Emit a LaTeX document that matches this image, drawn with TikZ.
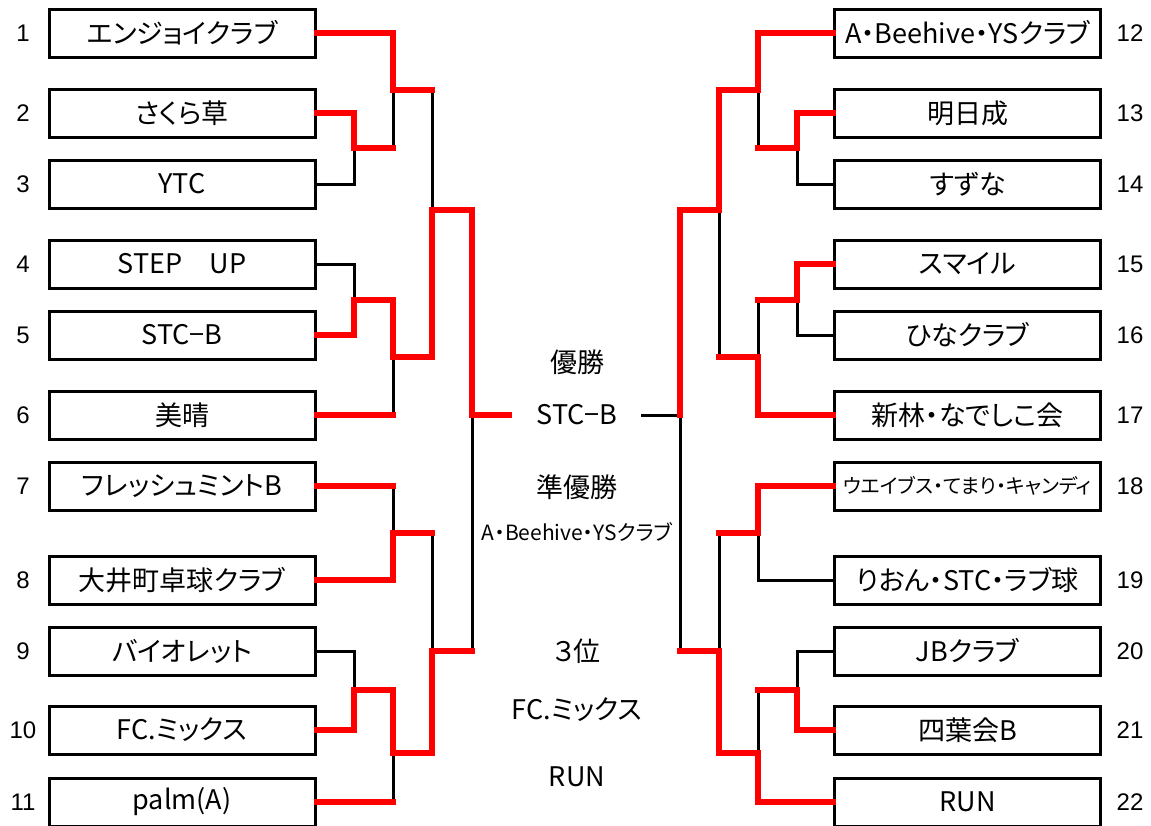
\documentclass[tikz,border=0pt]{standalone}
\usepackage{fontspec}
\setmainfont[RawFeature=+palt]{Noto Sans CJK JP}
\newfontfamily\numfont{Liberation Sans}
\begin{document}
\begin{tikzpicture}[x=1pt,y=-1pt,
  team/.style={draw, line width=3pt, minimum width=266pt, minimum height=48pt, inner sep=0pt, font=\fontsize{27}{27}\selectfont},
  num/.style={inner sep=0pt, font=\numfont\fontsize{24}{24}\selectfont},
  lab/.style={inner sep=0pt, font=\fontsize{27}{27}\selectfont},
  win/.style={draw=red, line width=5.5pt, line cap=rect},
  lose/.style={draw=black, line width=3pt, line cap=rect}]
\useasboundingbox (0,0) rectangle (1151,825);
% left teams
\node[team] (L1) at (182,33) {エンジョイクラブ};
\node[team] (L2) at (182,113) {さくら草};
\node[team] (L3) at (182,184) {YTC};
\node[team] (L4) at (182,264) {STEP　UP};
\node[team] (L5) at (182,335) {STC−B};
\node[team] (L6) at (182,415) {美晴};
\node[team] (L7) at (182,486) {フレッシュミントB};
\node[team] (L8) at (182,580) {大井町卓球クラブ};
\node[team] (L9) at (182,651) {バイオレット};
\node[team] (L10) at (182,730) {FC.ミックス};
\node[team] (L11) at (182,802) {palm(A)};
% right teams
\node[team] (R12) at (967.5,33) {A・Beehive・YSクラブ};
\node[team] (R13) at (967.5,113) {明日成};
\node[team] (R14) at (967.5,184) {すずな};
\node[team] (R15) at (967.5,264) {スマイル};
\node[team] (R16) at (967.5,335) {ひなクラブ};
\node[team] (R17) at (967.5,415) {新林・なでしこ会};
\node[team, font=\fontsize{20}{20}\selectfont] (R18) at (967.5,486) {ウエイブス・てまり・キャンディ};
\node[team] (R19) at (967.5,580) {りおん・STC・ラブ球};
\node[team] (R20) at (967.5,651) {JBクラブ};
\node[team] (R21) at (967.5,730) {四葉会B};
\node[team] (R22) at (967.5,802) {RUN};
% numbers
\node[num] (n1) at (23,33) {1};
\node[num] (n2) at (23,113) {2};
\node[num] (n3) at (23,184) {3};
\node[num] (n4) at (23,264) {4};
\node[num] (n5) at (23,335) {5};
\node[num] (n6) at (23,415) {6};
\node[num] (n7) at (23,486) {7};
\node[num] (n8) at (23,580) {8};
\node[num] (n9) at (23,651) {9};
\node[num] (n10) at (23,730) {10};
\node[num] (n11) at (23,802) {11};
\node[num] (n12) at (1130,33) {12};
\node[num] (n13) at (1130,113) {13};
\node[num] (n14) at (1130,184) {14};
\node[num] (n15) at (1130,264) {15};
\node[num] (n16) at (1130,335) {16};
\node[num] (n17) at (1130,415) {17};
\node[num] (n18) at (1130,486) {18};
\node[num] (n19) at (1130,580) {19};
\node[num] (n20) at (1130,651) {20};
\node[num] (n21) at (1130,730) {21};
\node[num] (n22) at (1130,802) {22};
% center labels
\node[lab] (t1) at (577,362) {優勝};
\node[lab] (champ) at (577,415) {STC−B};
\node[lab] (t2) at (577,487) {準優勝};
\node[lab, font=\fontsize{21}{21}\selectfont] (second) at (577,532) {A・Beehive・YSクラブ};
\node[lab] (t3) at (577,651) {３位};
\node[lab] (third1) at (577,710) {FC.ミックス};
\node[lab] (third2) at (577,777) {RUN};
% junctions
\coordinate (a23) at (354,148);
\coordinate (a1) at (393,90);
\coordinate (a45) at (354,300);
\coordinate (a6) at (393,357);
\coordinate (aT) at (432,210);
\coordinate (a78) at (393,533);
\coordinate (a910) at (354,690);
\coordinate (a11) at (393,753);
\coordinate (aB) at (432,651);
\coordinate (aF) at (472,415);
\coordinate (fl) at (509,415);
\coordinate (b1314) at (797,148);
\coordinate (b12) at (758,90);
\coordinate (b1516) at (797,300);
\coordinate (b17) at (758,357);
\coordinate (bT) at (719,210);
\coordinate (b1819) at (758,533);
\coordinate (b2021) at (797,690);
\coordinate (b22) at (758,753);
\coordinate (bB) at (719,651);
\coordinate (bF) at (680,415);
\coordinate (fr) at (642,415);
% black (losing) lines
\draw[lose] (L3.east) -| (a23);
\draw[lose] (a1) -- (a1 |- a23);
\draw[lose] (L4.east) -| (a45);
\draw[lose] (a6) -- (a6 |- L6.east);
\draw[lose] (aT) -- (aT |- a1);
\draw[lose] (a78) -- (a78 |- L7.east);
\draw[lose] (L9.east) -| (a910);
\draw[lose] (a11) -- (a11 |- L11.east);
\draw[lose] (aB) -- (aB |- a78);
\draw[lose] (aF) -- (aF |- aB);
\draw[lose] (R14.west) -| (b1314);
\draw[lose] (b12) -- (b12 |- b1314);
\draw[lose] (R16.west) -| (b1516);
\draw[lose] (b17) -- (b17 |- b1516);
\draw[lose] (bT) -- (bT |- b17);
\draw[lose] (R19.west) -| (b1819);
\draw[lose] (R20.west) -| (b2021);
\draw[lose] (b22) -- (b22 |- b2021);
\draw[lose] (bB) -- (bB |- b1819);
\draw[lose] (bF) -- (bF |- bB);
\draw[lose] (bF) -- (fr);
% red (winning) lines
\draw[win] (L2.east) -| (a23) -- (a23 -| a1);
\draw[win] (L1.east) -| (a1) -- (a1 -| aT);
\draw[win] (L5.east) -| (a45) -- (a45 -| a6) -- (a6) -- (a6 -| aT) -- (aT) -- (aT -| aF) -- (aF) -- (fl);
\draw[win] (L6.east) -- (L6.east -| a6);
\draw[win] (L7.east) -- (L7.east -| a78);
\draw[win] (L8.east) -| (a78) -- (a78 -| aB);
\draw[win] (L10.east) -| (a910) -- (a910 -| a11) -- (a11) -- (a11 -| aB) -- (aB) -- (aB -| aF);
\draw[win] (L11.east) -- (L11.east -| a11);
\draw[win] (R13.west) -| (b1314) -- (b1314 -| b12);
\draw[win] (R12.west) -| (b12) -- (b12 -| bT) -- (bT) -- (bT -| bF) -- (bF);
\draw[win] (R15.west) -| (b1516) -- (b1516 -| b17);
\draw[win] (R17.west) -| (b17) -- (b17 -| bT);
\draw[win] (R18.west) -| (b1819) -- (b1819 -| bB);
\draw[win] (R21.west) -| (b2021) -- (b2021 -| b22);
\draw[win] (R22.west) -| (b22) -- (b22 -| bB) -- (bB) -- (bB -| bF);
\end{tikzpicture}
\end{document}
